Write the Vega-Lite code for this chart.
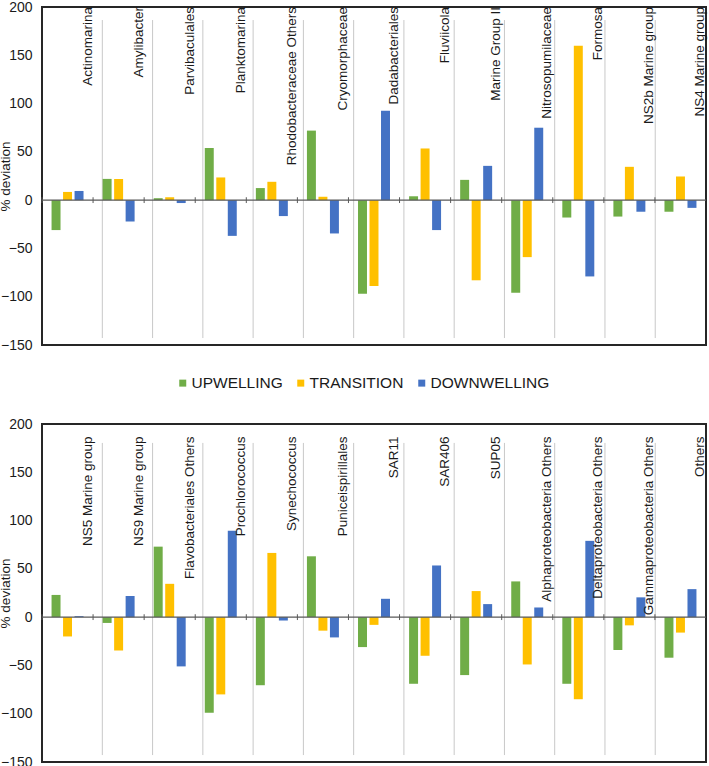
{
  "$schema": "https://vega.github.io/schema/vega-lite/v6.json",
  "padding": {"left": -3, "top": -1, "right": 2, "bottom": 4},
  "background": "white",
  "config": {
    "font": "Liberation Sans",
    "view": {"stroke": "#262626", "strokeWidth": 2},
    "axis": {"labelFont": "Liberation Sans", "titleFont": "Liberation Sans"},
    "axisY": {"title": "% deviation", "values": [-150, -100, -50, 0, 50, 100, 150, 200],
              "grid": false, "ticks": false, "domain": false, "labelPadding": 10,
              "labelFontSize": 14, "labelColor": "#1a1a1a",
              "titleFontSize": 13.5, "titleFontWeight": "normal", "titleColor": "#1a1a1a",
              "titleX": -30},
    "legend": {"labelFont": "Liberation Sans"}
  },
  "datasets": {
    "bars": [
      {"panel": "a", "taxon": "Actinomarina", "season": "UPWELLING", "value": -31},
      {"panel": "a", "taxon": "Actinomarina", "season": "TRANSITION", "value": 8.5},
      {"panel": "a", "taxon": "Actinomarina", "season": "DOWNWELLING", "value": 9.5},
      {"panel": "a", "taxon": "Amylibacter", "season": "UPWELLING", "value": 22},
      {"panel": "a", "taxon": "Amylibacter", "season": "TRANSITION", "value": 22},
      {"panel": "a", "taxon": "Amylibacter", "season": "DOWNWELLING", "value": -22},
      {"panel": "a", "taxon": "Parvibaculales", "season": "UPWELLING", "value": 2},
      {"panel": "a", "taxon": "Parvibaculales", "season": "TRANSITION", "value": 3},
      {"panel": "a", "taxon": "Parvibaculales", "season": "DOWNWELLING", "value": -3},
      {"panel": "a", "taxon": "Planktomarina", "season": "UPWELLING", "value": 54},
      {"panel": "a", "taxon": "Planktomarina", "season": "TRANSITION", "value": 23.5},
      {"panel": "a", "taxon": "Planktomarina", "season": "DOWNWELLING", "value": -37},
      {"panel": "a", "taxon": "Rhodobacteraceae Others", "season": "UPWELLING", "value": 12.5},
      {"panel": "a", "taxon": "Rhodobacteraceae Others", "season": "TRANSITION", "value": 19},
      {"panel": "a", "taxon": "Rhodobacteraceae Others", "season": "DOWNWELLING", "value": -16.5},
      {"panel": "a", "taxon": "Cryomorphaceae", "season": "UPWELLING", "value": 72},
      {"panel": "a", "taxon": "Cryomorphaceae", "season": "TRANSITION", "value": 3.5},
      {"panel": "a", "taxon": "Cryomorphaceae", "season": "DOWNWELLING", "value": -34.5},
      {"panel": "a", "taxon": "Dadabacteriales", "season": "UPWELLING", "value": -97},
      {"panel": "a", "taxon": "Dadabacteriales", "season": "TRANSITION", "value": -89},
      {"panel": "a", "taxon": "Dadabacteriales", "season": "DOWNWELLING", "value": 92.5},
      {"panel": "a", "taxon": "Fluviicola", "season": "UPWELLING", "value": 4},
      {"panel": "a", "taxon": "Fluviicola", "season": "TRANSITION", "value": 53.5},
      {"panel": "a", "taxon": "Fluviicola", "season": "DOWNWELLING", "value": -31},
      {"panel": "a", "taxon": "Marine Group II", "season": "UPWELLING", "value": 21},
      {"panel": "a", "taxon": "Marine Group II", "season": "TRANSITION", "value": -83},
      {"panel": "a", "taxon": "Marine Group II", "season": "DOWNWELLING", "value": 35.5},
      {"panel": "a", "taxon": "Nitrosopumilaceae", "season": "UPWELLING", "value": -96},
      {"panel": "a", "taxon": "Nitrosopumilaceae", "season": "TRANSITION", "value": -59},
      {"panel": "a", "taxon": "Nitrosopumilaceae", "season": "DOWNWELLING", "value": 75},
      {"panel": "a", "taxon": "Formosa", "season": "UPWELLING", "value": -18},
      {"panel": "a", "taxon": "Formosa", "season": "TRANSITION", "value": 160},
      {"panel": "a", "taxon": "Formosa", "season": "DOWNWELLING", "value": -79},
      {"panel": "a", "taxon": "NS2b  Marine group", "season": "UPWELLING", "value": -17},
      {"panel": "a", "taxon": "NS2b  Marine group", "season": "TRANSITION", "value": 34.5},
      {"panel": "a", "taxon": "NS2b  Marine group", "season": "DOWNWELLING", "value": -12},
      {"panel": "a", "taxon": "NS4 Marine group", "season": "UPWELLING", "value": -12},
      {"panel": "a", "taxon": "NS4 Marine group", "season": "TRANSITION", "value": 24.5},
      {"panel": "a", "taxon": "NS4 Marine group", "season": "DOWNWELLING", "value": -8},
      {"panel": "b", "taxon": "NS5 Marine group", "season": "UPWELLING", "value": 23},
      {"panel": "b", "taxon": "NS5 Marine group", "season": "TRANSITION", "value": -20},
      {"panel": "b", "taxon": "NS5 Marine group", "season": "DOWNWELLING", "value": 1},
      {"panel": "b", "taxon": "NS9 Marine group", "season": "UPWELLING", "value": -6},
      {"panel": "b", "taxon": "NS9 Marine group", "season": "TRANSITION", "value": -34.5},
      {"panel": "b", "taxon": "NS9 Marine group", "season": "DOWNWELLING", "value": 22},
      {"panel": "b", "taxon": "Flavobacteriales Others", "season": "UPWELLING", "value": 73},
      {"panel": "b", "taxon": "Flavobacteriales Others", "season": "TRANSITION", "value": 34.5},
      {"panel": "b", "taxon": "Flavobacteriales Others", "season": "DOWNWELLING", "value": -51},
      {"panel": "b", "taxon": "Prochlorococcus", "season": "UPWELLING", "value": -99},
      {"panel": "b", "taxon": "Prochlorococcus", "season": "TRANSITION", "value": -80},
      {"panel": "b", "taxon": "Prochlorococcus", "season": "DOWNWELLING", "value": 89.5},
      {"panel": "b", "taxon": "Synechococcus", "season": "UPWELLING", "value": -70.5},
      {"panel": "b", "taxon": "Synechococcus", "season": "TRANSITION", "value": 66.5},
      {"panel": "b", "taxon": "Synechococcus", "season": "DOWNWELLING", "value": -3.5},
      {"panel": "b", "taxon": "Puniceispirillales", "season": "UPWELLING", "value": 63},
      {"panel": "b", "taxon": "Puniceispirillales", "season": "TRANSITION", "value": -14},
      {"panel": "b", "taxon": "Puniceispirillales", "season": "DOWNWELLING", "value": -21},
      {"panel": "b", "taxon": "SAR11", "season": "UPWELLING", "value": -31},
      {"panel": "b", "taxon": "SAR11", "season": "TRANSITION", "value": -8},
      {"panel": "b", "taxon": "SAR11", "season": "DOWNWELLING", "value": 19},
      {"panel": "b", "taxon": "SAR406", "season": "UPWELLING", "value": -69},
      {"panel": "b", "taxon": "SAR406", "season": "TRANSITION", "value": -40},
      {"panel": "b", "taxon": "SAR406", "season": "DOWNWELLING", "value": 53.5},
      {"panel": "b", "taxon": "SUP05", "season": "UPWELLING", "value": -60},
      {"panel": "b", "taxon": "SUP05", "season": "TRANSITION", "value": 27},
      {"panel": "b", "taxon": "SUP05", "season": "DOWNWELLING", "value": 13.5},
      {"panel": "b", "taxon": "Alphaproteobacteria Others", "season": "UPWELLING", "value": 37},
      {"panel": "b", "taxon": "Alphaproteobacteria Others", "season": "TRANSITION", "value": -49},
      {"panel": "b", "taxon": "Alphaproteobacteria Others", "season": "DOWNWELLING", "value": 10},
      {"panel": "b", "taxon": "Deltaproteobacteria Others", "season": "UPWELLING", "value": -69},
      {"panel": "b", "taxon": "Deltaproteobacteria Others", "season": "TRANSITION", "value": -85},
      {"panel": "b", "taxon": "Deltaproteobacteria Others", "season": "DOWNWELLING", "value": 79},
      {"panel": "b", "taxon": "Gammaproteobacteria Others", "season": "UPWELLING", "value": -34},
      {"panel": "b", "taxon": "Gammaproteobacteria Others", "season": "TRANSITION", "value": -8.5},
      {"panel": "b", "taxon": "Gammaproteobacteria Others", "season": "DOWNWELLING", "value": 20.5},
      {"panel": "b", "taxon": "Others", "season": "UPWELLING", "value": -42},
      {"panel": "b", "taxon": "Others", "season": "TRANSITION", "value": -16},
      {"panel": "b", "taxon": "Others", "season": "DOWNWELLING", "value": 29}
    ],
    "separators": [
      {"k": 1}, {"k": 2}, {"k": 3}, {"k": 4}, {"k": 5}, {"k": 6},
      {"k": 7}, {"k": 8}, {"k": 9}, {"k": 10}, {"k": 11}, {"k": 12}
    ]
  },
  "bounds": "flush",
  "spacing": 79,
  "vconcat": [
    {
      "width": 664,
      "height": 338,
      "resolve": {"scale": {"x": "independent"}},
      "layer": [
        {
          "data": {"name": "separators"},
          "mark": {"type": "rule", "color": "#c8c8c8", "strokeWidth": 1},
          "encoding": {
            "x": {"field": "k", "type": "quantitative", "axis": null,
                  "scale": {"domain": [-0.2, 13.01], "nice": false, "zero": false}},
            "y": {"datum": 186.5, "type": "quantitative", "scale": {"domain": [-150, 200], "nice": false}},
            "y2": {"datum": -142.8}
          }
        },
        {
          "data": {"name": "bars"},
          "transform": [{"filter": "datum.panel == 'a'"}],
          "layer": [
            {
              "transform": [{"filter": "datum.season == 'UPWELLING'"}],
              "mark": {"type": "rule", "color": "#595959", "strokeWidth": 1},
              "encoding": {
                "x": {"field": "taxon", "type": "nominal", "sort": null, "bandPosition": 0, "axis": null},
                "y": {"datum": 3, "type": "quantitative"},
                "y2": {"datum": -3}
              }
            },
            {
              "mark": {"type": "bar"},
              "encoding": {
                "x": {"field": "taxon", "type": "nominal", "sort": null, "axis": null,
                      "scale": {"paddingInner": 0, "paddingOuter": 0}},
                "xOffset": {"field": "season", "type": "nominal", "sort": ["UPWELLING", "TRANSITION", "DOWNWELLING"],
                            "scale": {"paddingInner": 0.22, "paddingOuter": 0.83}},
                "y": {"field": "value", "type": "quantitative", "title": "% deviation"},
                "color": {"field": "season", "type": "nominal",
                          "scale": {"domain": ["UPWELLING", "TRANSITION", "DOWNWELLING"],
                                    "range": ["#70AD47", "#FFC000", "#4472C4"]},
                          "legend": {"title": null, "orient": "none", "legendX": 133, "legendY": 368,
                                     "direction": "horizontal", "symbolType": "square", "symbolSize": 49,
                                     "symbolStrokeWidth": 0, "labelFontSize": 15.5, "labelColor": "#1a1a1a",
                                     "columnPadding": 10, "labelOffset": 1}}
              }
            },
            {
              "data": {"values": [{}]},
              "mark": {"type": "rule", "color": "#595959", "strokeWidth": 1.2},
              "encoding": {"y": {"datum": 0, "type": "quantitative"}}
            },
            {
              "transform": [{"filter": "datum.season == 'UPWELLING'"}],
              "mark": {"type": "text", "angle": 270, "align": "right", "baseline": "alphabetic",
                       "fontSize": 13.5, "color": "#1a1a1a"},
              "encoding": {
                "x": {"field": "taxon", "type": "nominal", "sort": null, "bandPosition": 0.97, "axis": null},
                "y": {"datum": 200, "type": "quantitative"},
                "text": {"field": "taxon"}
              }
            }
          ]
        }
      ]
    },
    {
      "width": 664,
      "height": 338,
      "resolve": {"scale": {"x": "independent"}},
      "layer": [
        {
          "data": {"name": "separators"},
          "mark": {"type": "rule", "color": "#c8c8c8", "strokeWidth": 1},
          "encoding": {
            "x": {"field": "k", "type": "quantitative", "axis": null,
                  "scale": {"domain": [-0.2, 13.01], "nice": false, "zero": false}},
            "y": {"datum": 180.4, "type": "quantitative", "scale": {"domain": [-150, 200], "nice": false}},
            "y2": {"datum": -142.8}
          }
        },
        {
          "data": {"name": "bars"},
          "transform": [{"filter": "datum.panel == 'b'"}],
          "layer": [
            {
              "transform": [{"filter": "datum.season == 'UPWELLING'"}],
              "mark": {"type": "rule", "color": "#595959", "strokeWidth": 1},
              "encoding": {
                "x": {"field": "taxon", "type": "nominal", "sort": null, "bandPosition": 0, "axis": null},
                "y": {"datum": 3, "type": "quantitative"},
                "y2": {"datum": -3}
              }
            },
            {
              "mark": {"type": "bar"},
              "encoding": {
                "x": {"field": "taxon", "type": "nominal", "sort": null, "axis": null,
                      "scale": {"paddingInner": 0, "paddingOuter": 0}},
                "xOffset": {"field": "season", "type": "nominal", "sort": ["UPWELLING", "TRANSITION", "DOWNWELLING"],
                            "scale": {"paddingInner": 0.22, "paddingOuter": 0.83}},
                "y": {"field": "value", "type": "quantitative", "title": "% deviation"},
                "color": {"field": "season", "type": "nominal",
                          "scale": {"domain": ["UPWELLING", "TRANSITION", "DOWNWELLING"],
                                    "range": ["#70AD47", "#FFC000", "#4472C4"]},
                          "legend": {"title": null, "orient": "none", "legendX": 133, "legendY": 368,
                                     "direction": "horizontal", "symbolType": "square", "symbolSize": 49,
                                     "symbolStrokeWidth": 0, "labelFontSize": 15.5, "labelColor": "#1a1a1a",
                                     "columnPadding": 10, "labelOffset": 1}}
              }
            },
            {
              "data": {"values": [{}]},
              "mark": {"type": "rule", "color": "#595959", "strokeWidth": 1.2},
              "encoding": {"y": {"datum": 0, "type": "quantitative"}}
            },
            {
              "transform": [{"filter": "datum.season == 'UPWELLING'"}],
              "mark": {"type": "text", "angle": 270, "align": "right", "baseline": "alphabetic",
                       "fontSize": 13.5, "color": "#1a1a1a"},
              "encoding": {
                "x": {"field": "taxon", "type": "nominal", "sort": null, "bandPosition": 0.97, "axis": null},
                "y": {"datum": 187, "type": "quantitative"},
                "text": {"field": "taxon"}
              }
            }
          ]
        }
      ]
    }
  ]
}
